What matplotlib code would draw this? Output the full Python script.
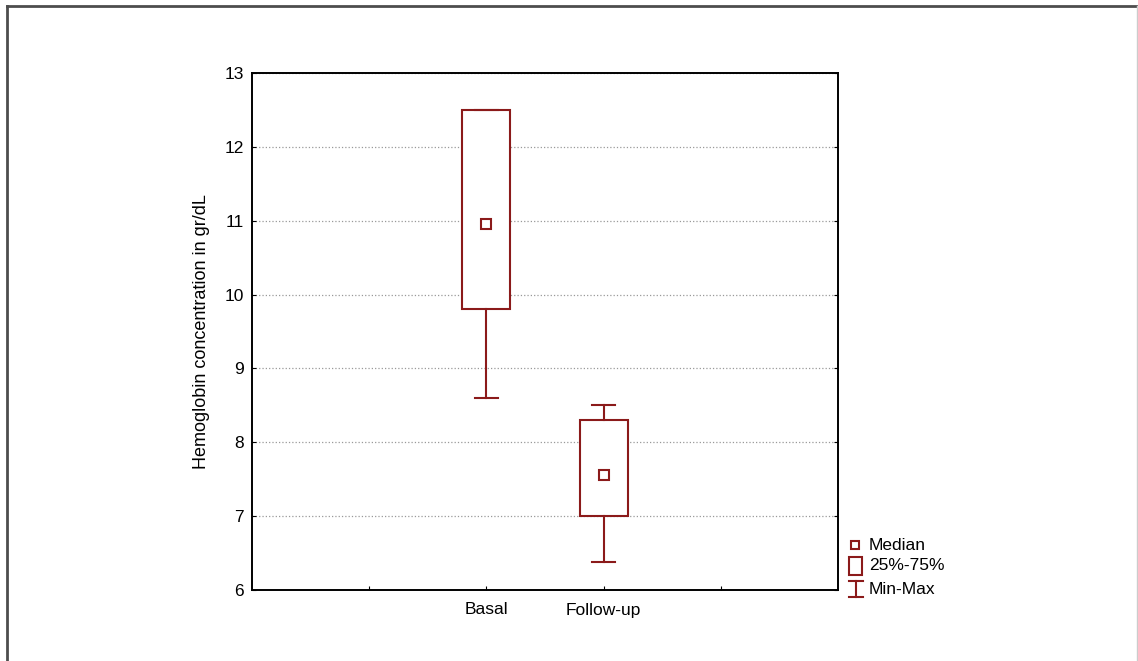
import matplotlib.pyplot as plt
from matplotlib.lines import Line2D
from matplotlib.patches import Rectangle

plt.rcParams['font.family'] = ['Liberation Sans', 'DejaVu Sans']

# data
groups = ['Basal', 'Follow-up']
positions = [2, 3]
medians = [10.95, 7.56]
q1 = [9.8, 7.0]
q3 = [12.5, 8.3]
mins = [8.6, 6.38]
maxs = [12.5, 8.5]

red = '#8b1a1a'
W, H = 1138, 661

fig = plt.figure(figsize=(W / 100, H / 100), dpi=100)
ax = fig.add_axes([252 / W, 1 - 590 / H, 586 / W, 517 / H])

stats = []
for g, m, lo, hi, a, b in zip(groups, medians, q1, q3, mins, maxs):
    stats.append({'label': g, 'med': m, 'q1': lo, 'q3': hi,
                  'whislo': a, 'whishi': b, 'fliers': []})

ax.bxp(stats, positions=positions, widths=0.41, patch_artist=True,
       showfliers=False, capwidths=0.2,
       boxprops=dict(facecolor='white', edgecolor=red, linewidth=1.5),
       whiskerprops=dict(color=red, linewidth=1.5),
       capprops=dict(color=red, linewidth=1.5),
       medianprops=dict(linewidth=0), zorder=3)
ax.plot(positions, medians, ls='none', marker='s', ms=7, mfc='white',
        mec=red, mew=1.5, zorder=4)

ax.set_xlim(0, 5)
ax.set_ylim(6, 13)
ax.set_xticks([1, 2, 3, 4])
ax.set_xticklabels(['', 'Basal', 'Follow-up', ''], fontsize=12.5)
ax.set_yticks(range(6, 14))
ax.tick_params(axis='both', direction='in', length=3, labelsize=12.5,
               right=True, pad=6)
ax.tick_params(axis='x', pad=9)
ax.yaxis.grid(True, ls=':', color='#999999', lw=0.9)
ax.set_axisbelow(True)
for s in ax.spines.values():
    s.set_linewidth(1.4)
ax.set_ylabel('Hemoglobin concentration in gr/dL', fontsize=13, labelpad=10)

# legend drawn by hand outside the axes
def fx(px):
    return px / W

def fy(py):
    return 1 - py / H

fig.add_artist(Line2D([fx(855)], [fy(545)], marker='s', ms=6, mfc='white',
                      mec=red, mew=1.5, ls='none'))
fig.add_artist(Rectangle((fx(849), fy(575)), 13 / W, 18 / H, fc='white',
                         ec=red, lw=1.5))
fig.add_artist(Line2D([fx(856), fx(856)], [fy(581), fy(597)], color=red, lw=1.5))
fig.add_artist(Line2D([fx(849), fx(863)], [fy(581), fy(581)], color=red, lw=1.5))
fig.add_artist(Line2D([fx(849), fx(863)], [fy(597), fy(597)], color=red, lw=1.5))
for py, txt in zip([545, 566, 589], ['Median', '25%-75%', 'Min-Max']):
    fig.text(fx(869), fy(py), txt, fontsize=12.5, va='center', ha='left')

# outer frame
fig.add_artist(Line2D([fx(7), fx(1137)], [fy(6), fy(6)], color='#4d4d4d', lw=2))
fig.add_artist(Line2D([fx(7), fx(7)], [fy(6), 0], color='#4d4d4d', lw=2))
fig.add_artist(Line2D([fx(1137), fx(1137)], [fy(6), 0], color='#cccccc', lw=1))

fig.savefig('out.png', dpi=100)
